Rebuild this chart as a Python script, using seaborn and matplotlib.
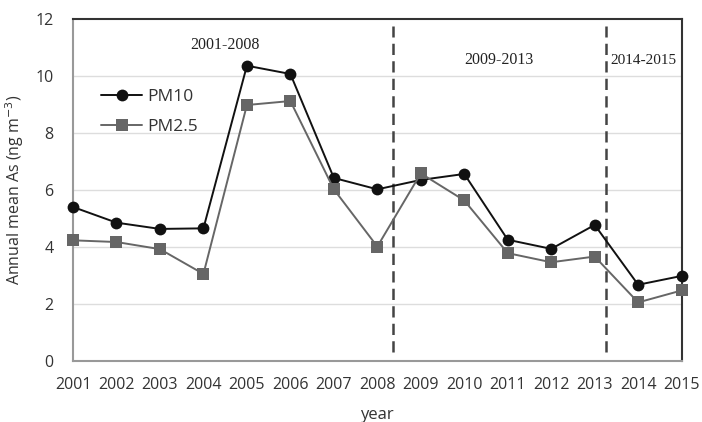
import pandas as pd
import matplotlib.pyplot as plt
import seaborn as sns

years = list(range(2001, 2016))
pm10 = [5.40, 4.85, 4.63, 4.65, 10.36, 10.07, 6.42, 6.02, 6.35, 6.56, 4.25, 3.93, 4.77, 2.67, 2.98]
pm25 = [4.23, 4.17, 3.92, 3.05, 8.98, 9.12, 6.02, 4.01, 6.58, 5.63, 3.78, 3.46, 3.66, 2.05, 2.47]
period_breaks = [2008.35, 2013.25]
period_labels = ["2001-2008", "2009-2013", "2014-2015"]

df = pd.DataFrame({
    "year": years * 2,
    "value": pm10 + pm25,
    "series": ["PM10"] * len(years) + ["PM2.5"] * len(years),
})

sns.set_style("white")
plt.rcParams["font.family"] = ["Open Sans", "DejaVu Sans"]

fig = plt.figure(figsize=(7.02, 4.22), dpi=100)
ax = fig.add_axes([0.104, 0.145, 0.867, 0.81])

for y in range(2, 12, 2):
    ax.axhline(y, color="#dddddd", lw=1, zorder=0)

sns.lineplot(
    data=df, x="year", y="value", hue="series", style="series",
    palette={"PM10": "#111111", "PM2.5": "#666666"},
    markers={"PM10": "o", "PM2.5": "s"}, dashes=False,
    markersize=8.5, markeredgewidth=0, linewidth=1.4,
    ax=ax, clip_on=False, zorder=3,
)

for xb in period_breaks:
    ax.plot([xb, xb], [0.3, 11.75], ls=(0, (4.5, 2.5)), color="#444444", lw=1.8, zorder=2)

serif = ["Liberation Serif", "DejaVu Serif"]
ax.text(2004.5, 11.1, period_labels[0], ha="center", va="center", fontsize=11.5, family=serif, color="#222222")
ax.text(2010.8, 10.55, period_labels[1], ha="center", va="center", fontsize=11.5, family=serif, color="#222222")
ax.text(2014.12, 10.55, period_labels[2], ha="center", va="center", fontsize=11, family=serif, color="#222222")

ax.set_xlim(2001, 2015)
ax.set_ylim(0, 12)
ax.set_xticks(years)
ax.set_yticks(range(0, 13, 2))
ax.tick_params(axis="x", labelsize=11.5, colors="#333333", length=0, pad=12)
ax.tick_params(axis="y", labelsize=11.5, colors="#333333", length=0, pad=14)
ax.set_xlabel("year", fontsize=12, color="#333333", labelpad=10)
ax.set_ylabel("Annual mean As (ng m$^{-3}$)", fontsize=11.5, color="#333333", labelpad=7)

for side in ["top", "right"]:
    ax.spines[side].set_color("#333333")
    ax.spines[side].set_linewidth(1.5)
for side in ["left", "bottom"]:
    ax.spines[side].set_color("#999999")
    ax.spines[side].set_linewidth(1.5)

leg = ax.legend(loc="upper left", bbox_to_anchor=(0.02, 0.84), frameon=False,
                fontsize=12.5, handlelength=2.4, handletextpad=0.3, labelspacing=0.75)
for t in leg.get_texts():
    t.set_color("#333333")

fig.savefig("out.png", dpi=100)
